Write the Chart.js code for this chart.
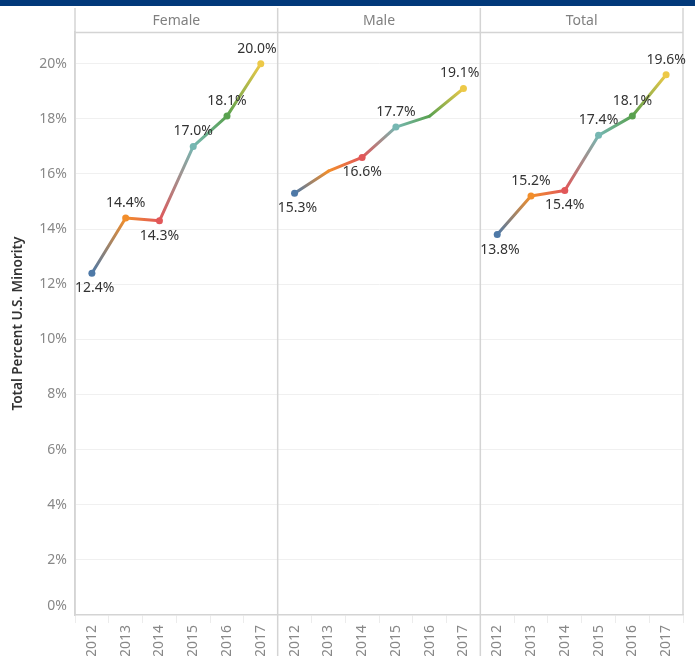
<!DOCTYPE html>
<html>
<head>
<meta charset="utf-8">
<script src="https://cdn.jsdelivr.net/npm/chart.js@4"></script>
<style>
  html, body { margin: 0; padding: 0; background: #fff; }
  .topbar { height: 6px; background: #02397a; }
  .chart-container { position: relative; width: 695px; height: 650px; }
</style>
</head>
<body>
<div class="topbar"></div>
<div class="chart-container"><canvas id="chart"></canvas></div>
<script>
const YEARS = ['2012', '2013', '2014', '2015', '2016', '2017'];
const PANELS = ['Female', 'Male', 'Total'];
const FEMALE = [12.4, 14.4, 14.3, 17.0, 18.1, 20.0];
const MALE = [15.3, 16.1, 16.6, 17.7, 18.1, 19.1];
const TOTAL = [13.8, 15.2, 15.4, 17.4, 18.1, 19.6];
const Y_TICKS = [0, 2, 4, 6, 8, 10, 12, 14, 16, 18, 20];

// which points get a marker + label (Tableau hides some on the Male line)
const MALE_MARKED = [true, false, true, true, false, true];

// label placement, per point
const LABEL_SIDE = [
  ['below', 'above', 'below', 'above', 'above', 'above'],
  ['below', null, 'below', 'above', null, 'above'],
  ['below', 'above', 'below', 'above', 'above', 'above'],
];

const YEAR_COLORS = ['#4e79a7', '#f28e2b', '#e15759', '#76b7b2', '#59a14f', '#edc948'];
const FONT = '"Noto Sans", "DejaVu Sans", sans-serif';
const GRID = '#d4d4d4';

const X_LABELS = PANELS.flatMap(() => YEARS);

/**
 * put one panel's values in its slot of the 18 categories
 */
function panelData(values, panel) {
  return X_LABELS.map((_, i) => (Math.floor(i / YEARS.length) === panel ? values[i % YEARS.length] : null));
}

function isMarked(panel, i) {
  return panel !== 1 || MALE_MARKED[i];
}

function makeDataset(label, values, panel) {
  return {
    label,
    data: panelData(values, panel),
    borderWidth: 3,
    borderCapStyle: 'round',
    borderJoinStyle: 'round',
    pointRadius: (ctx) => (isMarked(panel, ctx.dataIndex % 6) ? 3.5 : 0),
    pointBorderWidth: 0,
    pointBackgroundColor: (ctx) => YEAR_COLORS[ctx.dataIndex % 6],
    pointHoverRadius: 0,
    tension: 0,
    spanGaps: false,
    segment: {
      borderColor: (ctx) => {
        const g = ctx.chart.ctx.createLinearGradient(ctx.p0.x, ctx.p0.y, ctx.p1.x, ctx.p1.y);
        g.addColorStop(0, YEAR_COLORS[ctx.p0DataIndex % 6]);
        g.addColorStop(1, YEAR_COLORS[ctx.p1DataIndex % 6]);
        return g;
      },
      // gradients all stringify the same, so force a split per segment
      borderDashOffset: (ctx) => ctx.p0DataIndex,
    },
  };
}

const panelsPlugin = {
  id: 'panels',
  beforeDatasetsDraw(chart) {
    const { ctx, chartArea, scales } = chart;
    const x = scales.x;
    const y = scales.y;
    const edges = [0, 1, 2, 3].map((p) => x.getPixelForValue(p * 6 - 0.5));
    ctx.save();
    ctx.strokeStyle = GRID;
    ctx.lineWidth = 1.5;
    // header bottom line
    ctx.beginPath();
    ctx.moveTo(chartArea.left, chartArea.top + 0.5);
    ctx.lineTo(chartArea.right, chartArea.top + 0.5);
    ctx.stroke();
    edges.forEach((ex, i) => {
      const bottom = i === 0 || i === 3 ? chartArea.bottom : chart.height;
      ctx.beginPath();
      ctx.moveTo(ex, 2);
      ctx.lineTo(ex, bottom);
      ctx.stroke();
    });
    ctx.fillStyle = '#808080';
    ctx.font = '14px ' + FONT;
    ctx.textAlign = 'center';
    ctx.textBaseline = 'middle';
    PANELS.forEach((name, i) => {
      ctx.fillText(name, (edges[i] + edges[i + 1]) / 2, chartArea.top / 2 + 2);
    });
    // Tableau nudges the bottom tick label up, inside the pane
    ctx.fillStyle = '#888';
    ctx.textAlign = 'right';
    ctx.fillText(Y_TICKS[0] + '%', chartArea.left - 8, y.getPixelForValue(Y_TICKS[0]) - 9);
    ctx.restore();
  },
  afterDatasetsDraw(chart) {
    const { ctx } = chart;
    const x = chart.scales.x;
    ctx.save();
    ctx.font = '14px ' + FONT;
    ctx.fillStyle = '#333';
    ctx.textAlign = 'center';
    ctx.textBaseline = 'middle';
    chart.data.datasets.forEach((ds, panel) => {
      const meta = chart.getDatasetMeta(panel);
      const left = x.getPixelForValue(panel * 6 - 0.5);
      const right = panel === 2 ? chart.width - 1 : x.getPixelForValue(panel * 6 + 5.5) - 1;
      meta.data.forEach((pt, i) => {
        const v = ds.data[i];
        if (v == null) return;
        const side = LABEL_SIDE[panel][i % 6];
        if (!side) return;
        const text = v.toFixed(1) + '%';
        const w = ctx.measureText(text).width;
        let cx = pt.x;
        cx = Math.max(cx, left + w / 2);
        cx = Math.min(cx, right - w / 2);
        const cy = side === 'above' ? pt.y - 15 : pt.y + 15;
        ctx.fillText(text, cx, cy);
      });
    });
    ctx.restore();
  },
};

new Chart(document.getElementById('chart'), {
  type: 'line',
  data: {
    labels: X_LABELS,
    datasets: [
      makeDataset(PANELS[0], FEMALE, 0),
      makeDataset(PANELS[1], MALE, 1),
      makeDataset(PANELS[2], TOTAL, 2),
    ],
  },
  options: {
    responsive: true,
    maintainAspectRatio: false,
    animation: false,
    events: [],
    layout: { padding: { top: 26, right: 12, left: 0, bottom: 0 } },
    plugins: {
      legend: { display: false },
      tooltip: { enabled: false },
    },
    scales: {
      x: {
        type: 'category',
        offset: true,
        grid: {
          offset: true,
          drawOnChartArea: false,
          drawTicks: true,
          tickLength: 8,
          color: '#ececec',
        },
        border: { display: true, color: GRID, width: 1.5 },
        ticks: {
          autoSkip: false,
          minRotation: 90,
          maxRotation: 90,
          padding: 2,
          color: '#888',
          font: { family: FONT, size: 14 },
        },
        afterFit: (scale) => {
          scale.height = 41;
        },
      },
      y: {
        min: 0,
        max: 21.15,
        afterBuildTicks: (scale) => {
          scale.ticks = Y_TICKS.map((value) => ({ value }));
        },
        grid: {
          drawTicks: false,
          color: (ctx) => (ctx.tick && ctx.tick.value === 0 ? 'rgba(0,0,0,0)' : '#f0f0f0'),
        },
        border: { display: true, color: GRID, width: 1.5 },
        ticks: {
          padding: 8,
          color: '#888',
          font: { family: FONT, size: 14 },
          // 0% is drawn by the panels plugin, a bit higher
          callback: (v) => (v === 0 ? '' : v + '%'),
        },
        title: {
          display: true,
          text: 'Total Percent U.S. Minority',
          color: '#333',
          font: { family: FONT, size: 13.5, weight: '600' },
          padding: { top: 10, bottom: 0 },
        },
        afterFit: (scale) => {
          scale.width = 75;
        },
      },
    },
  },
  plugins: [panelsPlugin],
});
</script>
</body>
</html>
